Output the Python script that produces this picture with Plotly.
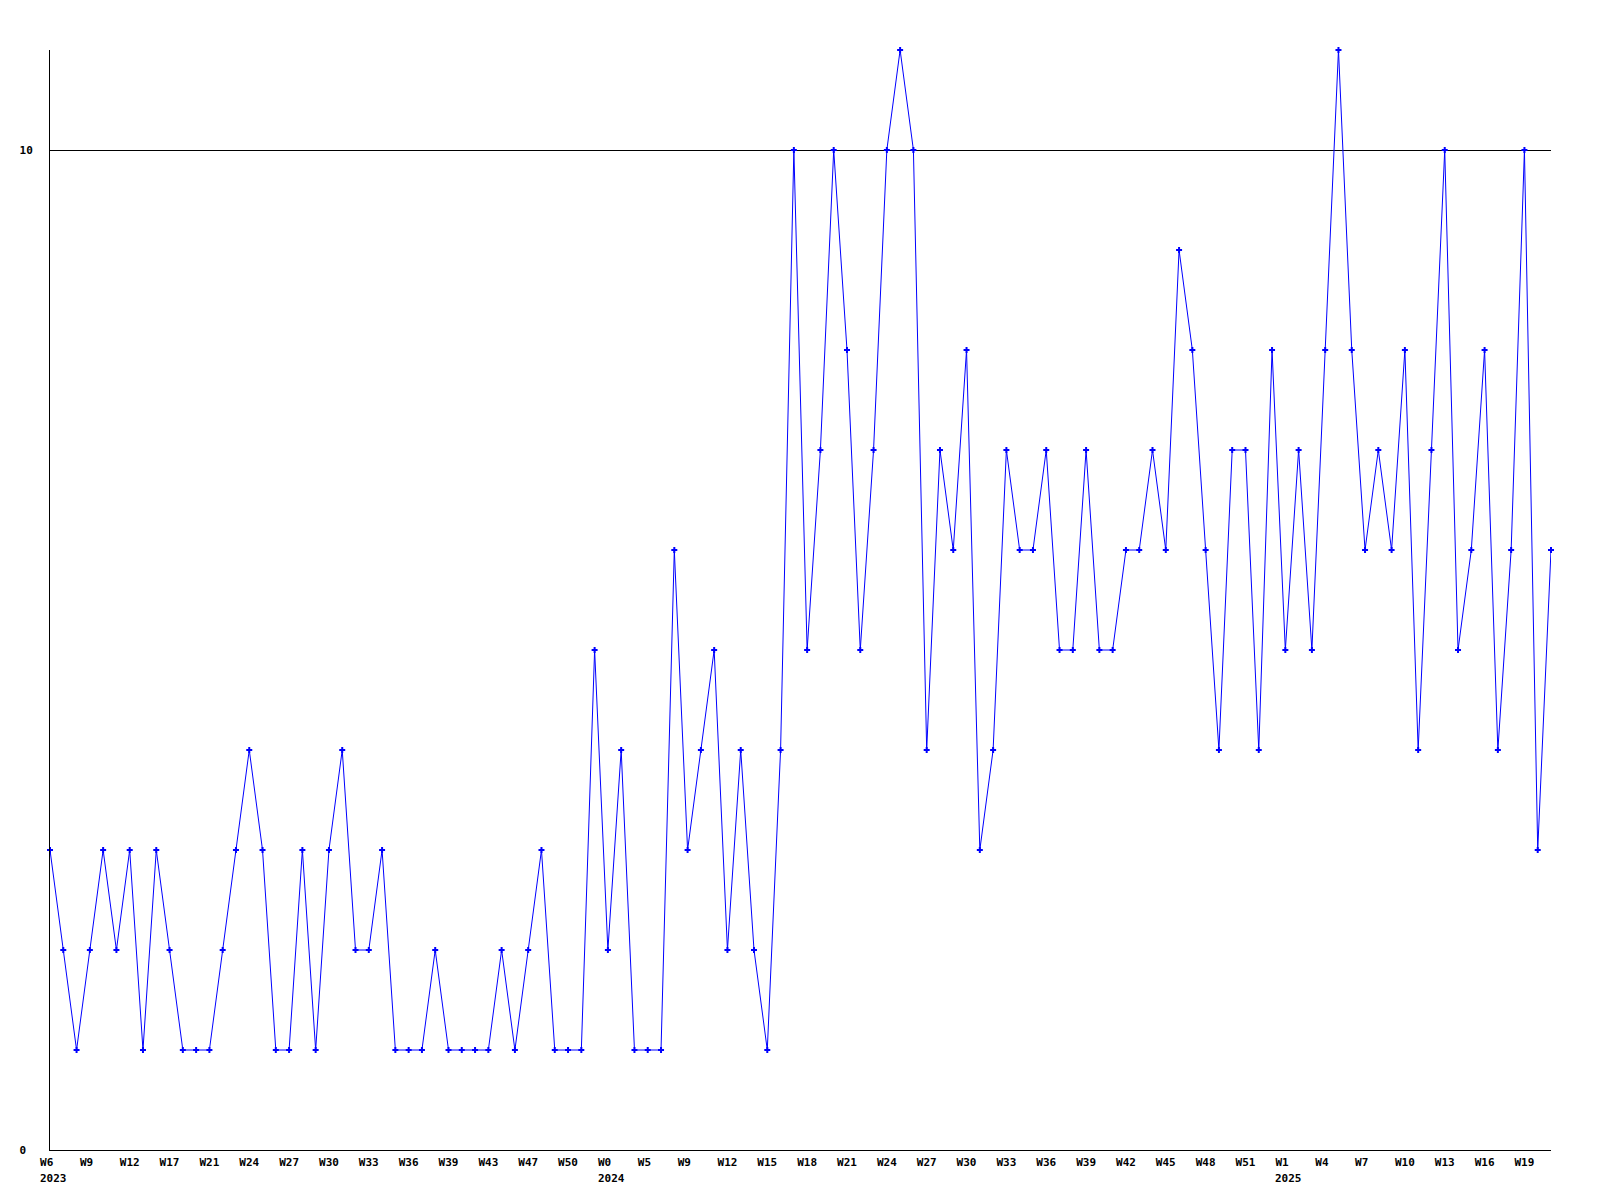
import plotly.graph_objects as go

values = [3, 2, 1, 2, 3, 2, 3, 1, 3, 2,
          1, 1, 1, 2, 3, 4, 3, 1, 1, 3,
          1, 3, 4, 2, 2, 3, 1, 1, 1, 2,
          1, 1, 1, 1, 2, 1, 2, 3, 1, 1,
          1, 5, 2, 4, 1, 1, 1, 6, 3, 4,
          5, 2, 4, 2, 1, 4, 10, 5, 7, 10,
          8, 5, 7, 10, 11, 10, 4, 7, 6, 8,
          3, 4, 7, 6, 6, 7, 5, 5, 7, 5,
          5, 6, 6, 7, 6, 9, 8, 6, 4, 7,
          7, 4, 8, 5, 7, 5, 8, 11, 8, 6,
          7, 6, 8, 4, 7, 10, 5, 6, 8, 4,
          6, 10, 3, 6]

week_labels = ["W6", "W9", "W12", "W17", "W21", "W24", "W27", "W30", "W33", "W36",
               "W39", "W43", "W47", "W50", "W0", "W5", "W9", "W12", "W15", "W18",
               "W21", "W24", "W27", "W30", "W33", "W36", "W39", "W42", "W45", "W48",
               "W51", "W1", "W4", "W7", "W10", "W13", "W16", "W19"]
label_step = 3
year_labels = {0: "2023", 14: "2024", 31: "2025"}
y_ticks = [0, 10]

x = list(range(len(values)))
tick_pos = [i * label_step for i in range(len(week_labels))]
# left-align labels in the monospaced font by padding to equal width
tick_text = [lab.ljust(3, "\u00a0") for lab in week_labels]
y_tick_text = [str(v).ljust(2, "\u00a0") for v in y_ticks]

FONT = dict(family="DejaVu Sans Mono", size=11, color="black", weight="bold")

fig = go.Figure()
fig.add_trace(go.Scatter(
    x=x, y=values, mode="lines+markers",
    line=dict(color="#0000ff", width=1),
    marker=dict(symbol="cross", size=5, color="#0000ff", line=dict(width=0)),
    cliponaxis=False, showlegend=False,
))

for li, yr in year_labels.items():
    fig.add_annotation(x=tick_pos[li], xref="x", y=0, yref="paper",
                       text=yr, showarrow=False, xanchor="left", yanchor="top",
                       xshift=-12, yshift=-20, font=FONT)

fig.update_layout(
    width=1592, height=1192,
    margin=dict(l=42, r=49, t=42, b=50),
    paper_bgcolor="white", plot_bgcolor="white",
    font=FONT,
    xaxis=dict(range=[0, len(values) - 1], tickmode="array", tickvals=tick_pos,
               ticktext=tick_text, showgrid=False, zeroline=False,
               showline=True, linecolor="black", linewidth=1, ticks="",
               tickangle=0, ticklabelshift=0, ticklabelstandoff=2, tickfont=FONT),
    yaxis=dict(range=[0, 11], tickmode="array", tickvals=y_ticks,
               ticktext=y_tick_text,
               showgrid=True, gridcolor="black", gridwidth=1, zeroline=False,
               showline=True, linecolor="black", linewidth=1, ticks="",
               ticklabelstandoff=14, tickfont=FONT),
)

fig.write_html("out.html")
